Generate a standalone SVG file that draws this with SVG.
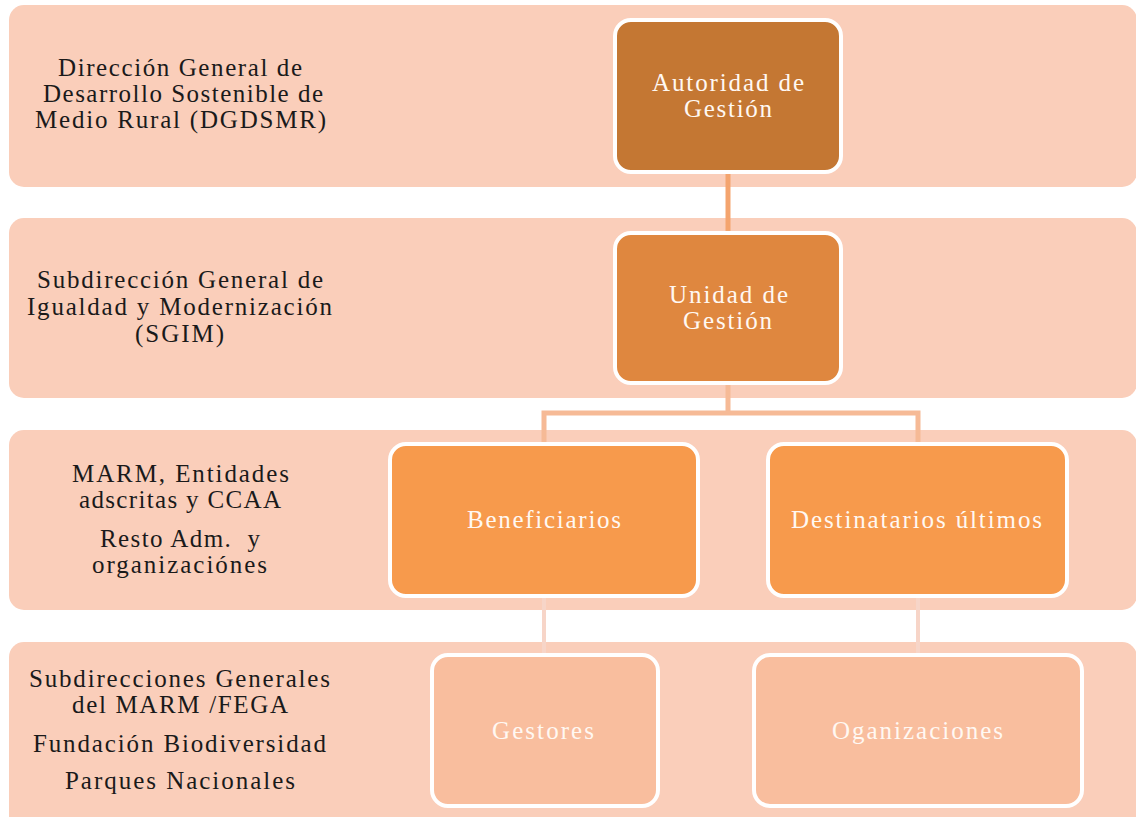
<svg xmlns="http://www.w3.org/2000/svg" width="1136" height="817" viewBox="0 0 1136 817">
<style>
.band{fill:#FACEBA;}
.node{stroke:#FFFFFF;stroke-width:4;}
.lbl{font-family:"Liberation Serif","Times New Roman",serif;font-size:25px;fill:#1A1A1A;text-anchor:middle;}
.nl{font-family:"Liberation Serif","Times New Roman",serif;font-size:25px;fill:#FFF8F2;text-anchor:middle;}
.c1{stroke:#F4A46E;stroke-width:5;fill:none;}
.c2{stroke:#F6BA96;stroke-width:5;fill:none;}
.c3{stroke:#F7D5C8;stroke-width:4;fill:none;}
</style>
<rect width="1136" height="817" fill="#FFFFFF"/>
<g id="bands">
<rect class="band" x="9" y="5" width="1128" height="182" rx="15"/>
<rect class="band" x="9" y="218" width="1128" height="180" rx="15"/>
<rect class="band" x="9" y="430" width="1128" height="180" rx="15"/>
<rect class="band" x="9" y="642" width="1128" height="190" rx="15"/>
</g>
<g id="level-labels">
<text class="lbl" x="180" y="76" textLength="244">Dirección General de</text>
<text class="lbl" x="183" y="102" textLength="280">Desarrollo Sostenible de</text>
<text class="lbl" x="180.5" y="128" textLength="291">Medio Rural (DGDSMR)</text>
<text class="lbl" x="180" y="288" textLength="286">Subdirección General de</text>
<text class="lbl" x="179.5" y="315" textLength="305">Igualdad y Modernización</text>
<text class="lbl" x="179.5" y="342" textLength="89">(SGIM)</text>
<text class="lbl" x="180.5" y="482" textLength="217">MARM, Entidades</text>
<text class="lbl" x="180" y="508" textLength="202">adscritas y CCAA</text>
<text class="lbl" x="180" y="547" textLength="160" xml:space="preserve">Resto Adm.  y</text>
<text class="lbl" x="179.5" y="573" textLength="175">organizaciónes</text>
<text class="lbl" x="179.5" y="687" textLength="301">Subdirecciones Generales</text>
<text class="lbl" x="180" y="713" textLength="216">del MARM /FEGA</text>
<text class="lbl" x="179.5" y="752" textLength="293">Fundación Biodiversidad</text>
<text class="lbl" x="180" y="789" textLength="230">Parques Nacionales</text>
</g>
<g id="connectors">
<line class="c1" x1="728" y1="172" x2="728" y2="234"/>
<path class="c2" d="M728,383 V413 M544,444 V413 H918 V444"/>
<line class="c3" x1="544" y1="596" x2="544" y2="656"/>
<line class="c3" x1="918" y1="596" x2="918" y2="656"/>
</g>
<g id="autoridad">
<rect class="node" x="615" y="20" width="226" height="152" rx="16" fill="#C47733"/>
<text class="nl" x="728" y="91" textLength="152">Autoridad de</text>
<text class="nl" x="728" y="117" textLength="88">Gestión</text>
</g>
<g id="unidad">
<rect class="node" x="615" y="233" width="226" height="150" rx="16" fill="#DF873F"/>
<text class="nl" x="728.5" y="303" textLength="119">Unidad de</text>
<text class="nl" x="727.5" y="329" textLength="89">Gestión</text>
</g>
<g id="beneficiarios">
<rect class="node" x="390" y="444" width="308" height="152" rx="16" fill="#F79A4C"/>
<text class="nl" x="544" y="528" textLength="154">Beneficiarios</text>
</g>
<g id="destinatarios">
<rect class="node" x="768" y="444" width="299" height="152" rx="16" fill="#F79A4C"/>
<text class="nl" x="916.5" y="528" textLength="251">Destinatarios últimos</text>
</g>
<g id="gestores">
<rect class="node" x="432" y="655" width="226" height="151" rx="16" fill="#F9BE9E"/>
<text class="nl" x="543" y="739" textLength="102">Gestores</text>
</g>
<g id="organizaciones">
<rect class="node" x="754" y="655" width="328" height="151" rx="16" fill="#F9BE9E"/>
<text class="nl" x="917.5" y="739" textLength="171">Oganizaciones</text>
</g>
</svg>
